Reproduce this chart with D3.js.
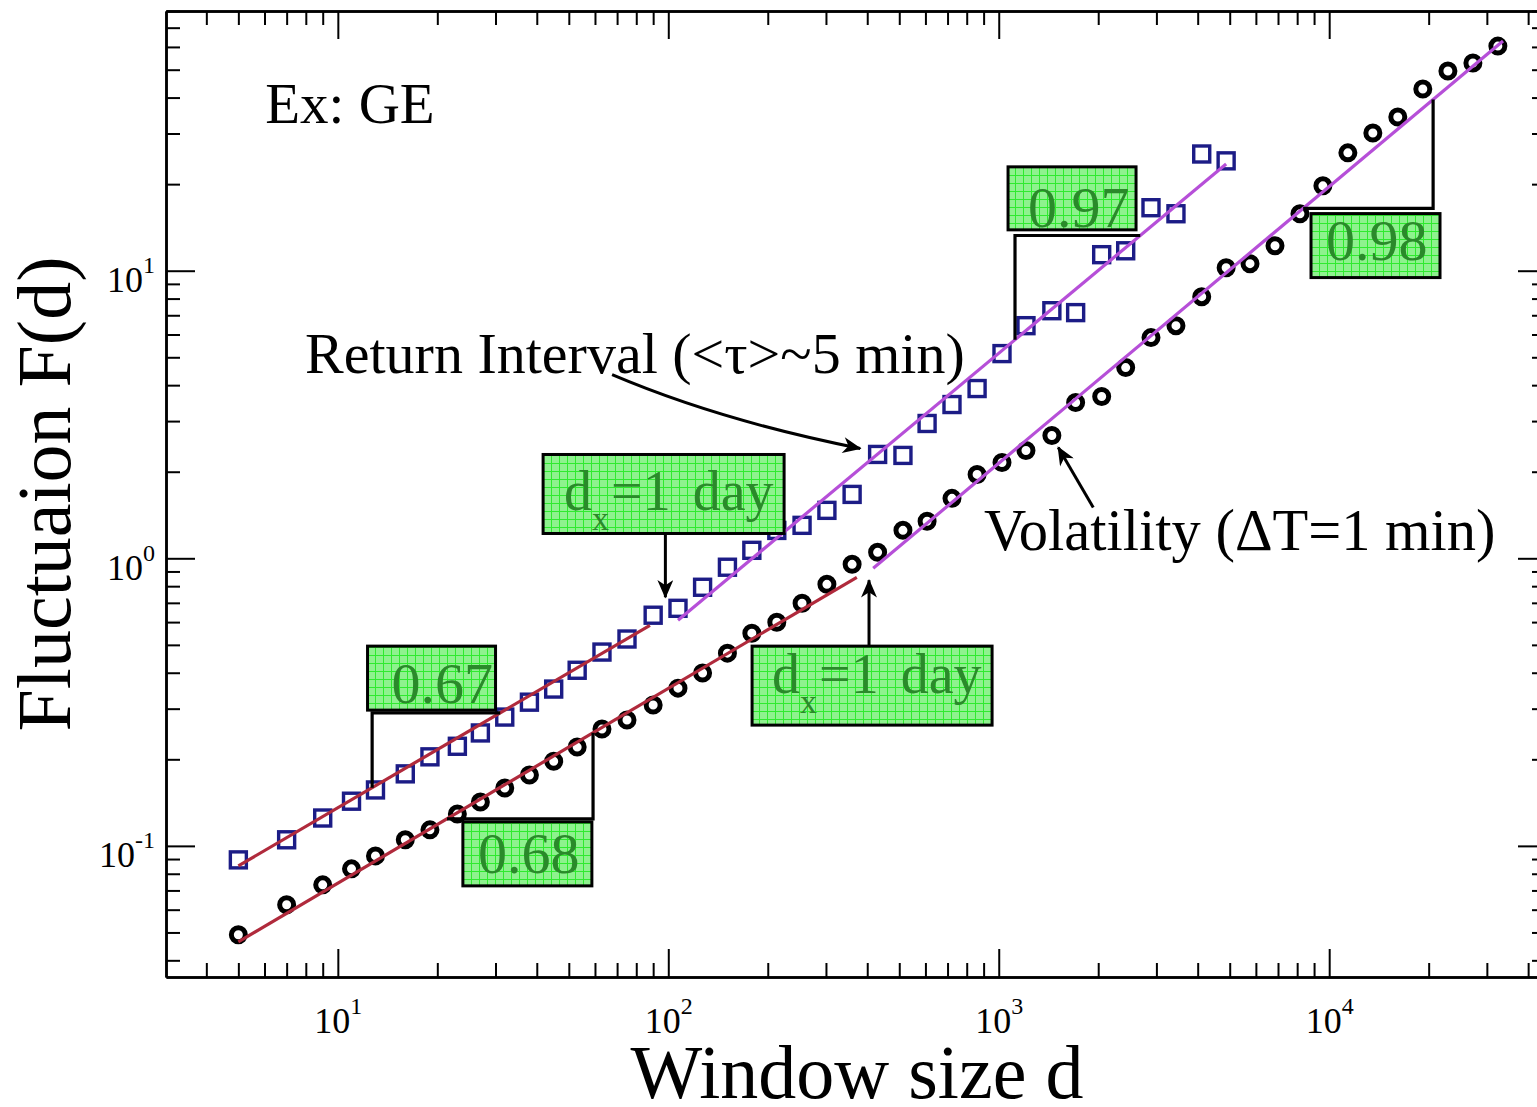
<!DOCTYPE html>
<html>
<head>
<meta charset="utf-8">
<script src="https://cdn.jsdelivr.net/npm/d3@7"></script>
<style>
body { margin: 0; background: #fff; }
svg { display: block; }
text { font-family: "Liberation Serif", "Times New Roman", serif; fill: #000; }
.axis path { stroke: #000; stroke-width: 2.5; }
.axis line { stroke: #000; stroke-width: 2; }
</style>
</head>
<body>
<div class="content"></div>
<script>
// window sizes d (same grid for both series)
var windowSize = [5, 7, 9, 11, 13, 16, 19, 23, 27, 32, 38, 45, 53, 63, 75, 90, 107, 127, 151, 179,
    213, 254, 302, 360, 430, 513, 607, 722, 860, 1023, 1209, 1448, 1709, 2049, 2422, 2889, 3438, 4114, 4877,
    5760, 6855, 8158, 9570, 11390, 13555, 16130, 19200, 22870, 27220, 32390];

// F(d) of the return intervals (squares), first 39 window sizes
var returnInterval = [0.0894, 0.105, 0.125, 0.143, 0.1565, 0.178, 0.204, 0.222, 0.247, 0.2805,
    0.316, 0.351, 0.408, 0.472, 0.524, 0.634, 0.670, 0.793, 0.931, 1.066,
    1.25, 1.302, 1.468, 1.668, 2.297, 2.279, 2.943, 3.425, 3.893, 5.15,
    6.44, 7.26, 7.15, 11.37, 11.73, 16.56, 15.78, 25.46, 24.1];

// F(d) of the volatility (circles)
var volatility = [0.0491, 0.0624, 0.0732, 0.0832, 0.0923, 0.105, 0.1137, 0.129, 0.142, 0.159,
    0.1764, 0.197, 0.2206, 0.2548, 0.274, 0.309, 0.3536, 0.399, 0.468, 0.549,
    0.5995, 0.698, 0.812, 0.953, 1.049, 1.251, 1.345, 1.616, 1.957, 2.154,
    2.371, 2.673, 3.48, 3.652, 4.605, 5.853, 6.44, 8.124, 10.24, 10.58,
    12.21, 15.77, 19.73, 25.69, 30.13, 34.25, 42.85, 49.5, 52.75, 60.4];

// power-law fits, end points [d, F]
var riFitShort = [[5, 0.0852], [88, 0.585]];
var riFitLong = [[107, 0.609], [4877, 23.5]];
var volFitShort = [[5, 0.0464], [372, 0.859]];
var volFitLong = [[417, 0.923], [33570, 62.9]];

var slopeLabels = ["0.67", "0.97", "0.68", "0.98"];
var crossLabel = ["=1", "day"];

var xDomain = [3.02, 45300];
var yDomain = [0.035, 80];

var fullWidth = 1537, fullHeight = 1107;
var plot = {'left': 166, 'right': 1546, 'top': 11, 'bottom': 977};

var svg = d3.select("div.content").append("svg")
    .attr("width", fullWidth)
    .attr("height", fullHeight);

var x = d3.scaleLog().domain(xDomain).range([plot.left, plot.right]);
var y = d3.scaleLog().domain(yDomain).range([plot.bottom, plot.top]);

function isPow(v){ var l = Math.log10(v); return Math.abs(l - Math.round(l)) < 1e-9; }
function majors(s){ return s.ticks().filter(isPow); }
function minors(s){ return s.ticks().filter(function(v){ return !isPow(v); }); }

// value of a fit line at d (straight in log-log)
function fitAt(fit, d){
    var s = Math.log(fit[1][1] / fit[0][1]) / Math.log(fit[1][0] / fit[0][0]);
    return fit[0][1] * Math.pow(d / fit[0][0], s);
}

// defs: green grid fill and arrow head
var defs = svg.append("defs");
var pat = defs.append("pattern").attr("id", "grid")
    .attr("width", 8).attr("height", 8).attr("patternUnits", "userSpaceOnUse");
pat.append("rect").attr("width", 8).attr("height", 8).attr("fill", "#8ef28e");
pat.append("path").attr("d", "M7.5,0V8M0,7.5H8").attr("stroke", "#2fea2f").attr("stroke-width", 1);

defs.append("marker").attr("id", "head")
    .attr("viewBox", "0 0 14 12").attr("refX", 13).attr("refY", 6)
    .attr("markerUnits", "userSpaceOnUse").attr("markerWidth", 20).attr("markerHeight", 16)
    .attr("orient", "auto")
  .append("path").attr("d", "M0,0L14,6L0,12L4,6Z").attr("fill", "#000");

//axes (ticks inside on all four sides)
function addAxis(axisFn, transform, scale, size, major){
    var a = axisFn(scale).tickSize(size).tickSizeOuter(0)
        .tickValues(major ? majors(scale) : minors(scale))
        .tickFormat(function(){ return ""; });
    return svg.append("g").attr("class", "axis").attr("transform", transform).call(a);
}

var bottomT = "translate(0," + plot.bottom + ")", topT = "translate(0," + plot.top + ")";
var leftT = "translate(" + plot.left + ",0)", rightT = "translate(" + plot.right + ",0)";

var xMajor = addAxis(d3.axisBottom, bottomT, x, -28, true);
addAxis(d3.axisBottom, bottomT, x, -14, false);
addAxis(d3.axisTop, topT, x, -28, true);
addAxis(d3.axisTop, topT, x, -14, false);
var yMajor = addAxis(d3.axisLeft, leftT, y, -29, true);
addAxis(d3.axisLeft, leftT, y, -14, false);
addAxis(d3.axisRight, rightT, y, -28, true);
addAxis(d3.axisRight, rightT, y, -14, false);

function powerLabel(sel, xPos, yPos){
    sel.selectAll(".tick text").each(function(d){
        var t = d3.select(this).text(null).attr("dy", null).attr("x", xPos).attr("y", yPos)
            .attr("font-size", 36);
        t.append("tspan").text("10");
        t.append("tspan").attr("dy", -19).attr("font-size", 24).text(Math.round(Math.log10(d)));
    });
}
powerLabel(xMajor, 0, 56);
powerLabel(yMajor, -11, 21);
// right and top axes carry no labels
svg.selectAll(".axis").filter(function(){ return this !== xMajor.node() && this !== yMajor.node(); })
    .selectAll(".tick text").remove();

//axis titles
svg.append("text")
    .attr("x", 857).attr("y", 1098)
    .attr("font-size", 76)
    .style("text-anchor", "middle")
    .text("Window size d");
svg.append("text")
    .attr("transform", "translate(70,494) rotate(-90)")
    .attr("font-size", 76)
    .style("text-anchor", "middle")
    .text("Fluctuaion F(d)");

//points
var riPoints = returnInterval.map(function(v, i){ return {x: windowSize[i], y: v}; });
var volPoints = volatility.map(function(v, i){ return {x: windowSize[i], y: v}; });

svg.selectAll(".sq")
    .data(riPoints)
  .enter().append("rect")
    .attr("class", "sq")
    .attr("x", function(d){ return x(d.x) - 8; })
    .attr("y", function(d){ return y(d.y) - 8; })
    .attr("width", 16).attr("height", 16)
    .attr("fill", "none")
    .attr("stroke", "#1c1c86")
    .attr("stroke-width", 3.4);

svg.selectAll(".dot")
    .data(volPoints)
  .enter().append("circle")
    .attr("class", "dot")
    .attr("r", 7)
    .attr("cx", function(d){ return x(d.x); })
    .attr("cy", function(d){ return y(d.y); })
    .attr("fill", "none")
    .attr("stroke", "#000")
    .attr("stroke-width", 5);

//fit lines
var valueLine = d3.line().x(function(d){ return x(d[0]); }).y(function(d){ return y(d[1]); });
[[riFitShort, "#b02a3c"], [volFitShort, "#b02a3c"], [riFitLong, "#b64fd8"], [volFitLong, "#b64fd8"]]
    .forEach(function(p){
        svg.append("path")
            .datum(p[0])
            .attr("class", "line")
            .attr("d", valueLine)
            .attr("fill", "none")
            .attr("stroke", p[1])
            .attr("stroke-width", 3.2);
    });

//slope triangles
var brackets = [
    {fit: riFitShort, d1: 12.7, d2: 31, up: true},
    {fit: riFitLong, d1: 1120, d2: 2680, up: true},
    {fit: volFitShort, d1: 21.4, d2: 59.2, up: false},
    {fit: volFitLong, d1: 8340, d2: 20630, up: false}
];
brackets.forEach(function(b){
    var x1 = x(b.d1), x2 = x(b.d2), y1 = y(fitAt(b.fit, b.d1)), y2 = y(fitAt(b.fit, b.d2));
    var d = b.up ? "M" + x1 + "," + y1 + "V" + y2 + "H" + x2
                 : "M" + x1 + "," + y1 + "H" + x2 + "V" + y2;
    svg.append("path").attr("d", d).attr("fill", "none")
        .attr("stroke", "#000").attr("stroke-width", 3.2);
});

//green boxes
var boxes = [
    {d: 12.3, f: 0.495, w: 128, h: 64, tx: 24, ty: 57, label: slopeLabels[0]},
    {d: 1067, f: 22.97, w: 128, h: 63, tx: 20, ty: 60, label: slopeLabels[1]},
    {d: 23.9, f: 0.1212, w: 129, h: 64, tx: 15, ty: 51, label: slopeLabels[2]},
    {d: 8810, f: 15.8, w: 129, h: 64, tx: 15, ty: 46, label: slopeLabels[3]},
    {d: 41.8, f: 2.296, w: 241, h: 79, tx: 21, ty: 56, sub: true},
    {d: 179.3, f: 0.495, w: 240, h: 79, tx: 20, ty: 47, sub: true}
];
boxes.forEach(function(b){
    var bx = x(b.d), by = y(b.f);
    svg.append("rect")
        .attr("x", bx).attr("y", by).attr("width", b.w).attr("height", b.h)
        .attr("fill", "url(#grid)")
        .attr("stroke", "#000").attr("stroke-width", 3);
    var t = svg.append("text")
        .attr("x", bx + b.tx).attr("y", by + b.ty)
        .attr("font-size", 58)
        .style("fill", "#2a8a2a");
    if (b.sub){
        t.attr("font-size", 56);
        t.append("tspan").text("d");
        t.append("tspan").attr("dy", 20).attr("font-size", 34).text("x");
        t.append("tspan").attr("dy", -20).attr("dx", 2).text(crossLabel[0]);
        t.append("tspan").attr("dx", 22).text(crossLabel[1]);
    } else {
        t.text(b.label);
    }
});

//labels
var notes = [
    {d: 6.03, f: 32.7, size: 57, text: "Ex: GE"},
    {d: 7.96, f: 4.42, size: 58, text: "Return Interval (<\u03c4>~5 min)"},
    {d: 903, f: 1.066, size: 58.5, text: "Volatility (\u0394T=1 min)"}
];
svg.selectAll(".note")
    .data(notes)
  .enter().append("text")
    .attr("class", "note")
    .attr("x", function(d){ return x(d.d); })
    .attr("y", function(d){ return y(d.f); })
    .attr("font-size", function(d){ return d.size; })
    .text(function(d){ return d.text; });

//arrows
var arrows = [
    {from: [67.6, 4.35], via: [143.6, 3.01], to: [381, 2.41]},
    {from: [1932, 1.503], to: [1514, 2.43]},
    {from: [98, 1.221], to: [98, 0.732]},
    {from: [405, 0.495], to: [405, 0.839]}
];
arrows.forEach(function(a){
    var d = "M" + x(a.from[0]) + "," + y(a.from[1]);
    if (a.via) d += "Q" + x(a.via[0]) + "," + y(a.via[1]) + " ";
    else d += "L";
    d += x(a.to[0]) + "," + y(a.to[1]);
    svg.append("path").attr("d", d).attr("fill", "none")
        .attr("stroke", "#000").attr("stroke-width", 3)
        .attr("marker-end", "url(#head)");
});
</script>
</body>
</html>
